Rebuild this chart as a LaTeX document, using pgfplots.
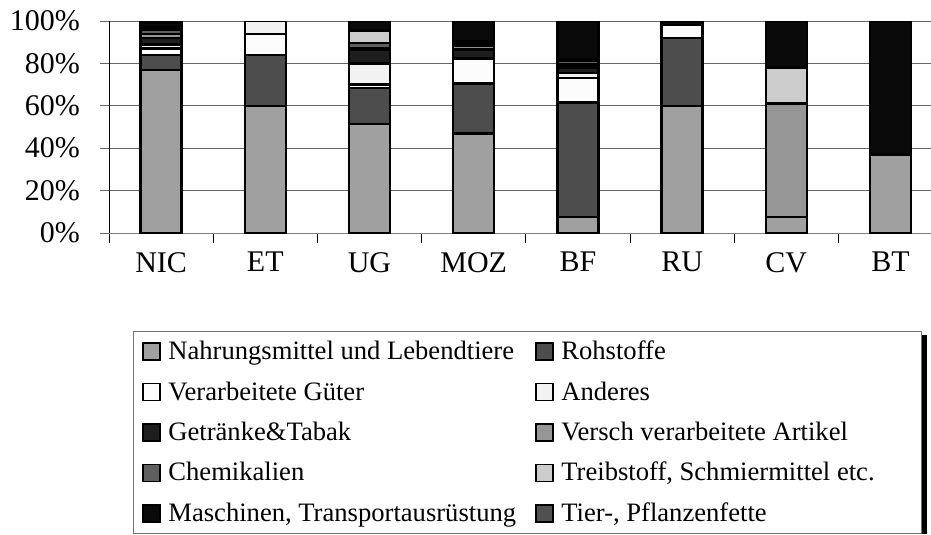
\documentclass[border=0pt]{standalone}
\usepackage{fontspec}
\setmainfont{Liberation Serif}
\usepackage{pgfplots}
\pgfplotsset{compat=1.18}
\usepackage{pgfplotstable}

\definecolor{cNahr}{HTML}{A0A0A0}
\definecolor{cRoh}{HTML}{4D4D4D}
\definecolor{cVerarb}{HTML}{FCFCFC}
\definecolor{cAnd}{HTML}{F2F2F2}
\definecolor{cGetr}{HTML}{1E1E1E}
\definecolor{cVersch}{HTML}{969696}
\definecolor{cChem}{HTML}{5F5F5F}
\definecolor{cTreib}{HTML}{CCCCCC}
\definecolor{cMasch}{HTML}{0A0A0A}
\definecolor{cTier}{HTML}{505050}

\pgfplotstableread{
x nahr roh verarb anderes getr versch chem treib masch tier
0 77   7    3    2   3   2   2   1   2   1
1 60   24   10   6   0   0   0   0   0   0
2 51.5 17   1.5  10  6.5 0.5 2.5 6   4.5 0
3 47   23.5 11.5 0.5 4   2   1   1   9.5 0
4 7.5  54   11.5 2.5 2.5 1.5 1.5 1   18  0
5 60   32   6    0   0   0   0   0   2   0
6 7.5  0    0    0   0   53.5 0  17  22  0
7 37   0    0    0   0   0   0   0   63  0
}\data

\pgfplotsset{
  leg/.style={legend image code/.code={\draw[##1, line width=1.6bp, draw=black] (0bp,-8.5bp) rectangle (17bp,8.5bp); \path (24bp,0bp);}}
}

\begin{document}
\begin{tikzpicture}
\begin{axis}[
  scale only axis, width=833.6bp, height=212bp,
  xmin=-0.5, xmax=7.5, ymin=0, ymax=100,
  ybar stacked, bar width=41bp,
  axis lines*=left,
  x axis line style={black!50, line width=0.9bp},
  y axis line style={black, line width=0.9bp},
  tick align=outside,
  major tick length=9bp, minor tick length=10bp,
  xtick={0,...,7},
  xticklabels={NIC,ET,UG,MOZ,BF,RU,CV,BT},
  minor xtick={-0.5,0.5,...,7.5},
  major x tick style={draw=none},
  minor x tick style={black, line width=0.9bp},
  ytick={0,20,...,100},
  yticklabels={0\%,20\%,40\%,60\%,80\%,100\%},
  y tick style={black!60, line width=0.9bp},
  ymajorgrids, major grid style={black!60, line width=0.9bp},
  tick label style={font=\fontsize{30bp}{36bp}\selectfont},
  yticklabel style={anchor=east, inner sep=0pt, xshift=-20bp},
  xticklabel style={anchor=north, inner sep=0pt, yshift=-10bp},
  every axis plot/.append style={draw=black, line width=2.4bp},
  legend columns=2, legend cell align=left,
  legend style={
    name=lgd,
    at={(rel axis cs:0.02879,-0.46226)}, anchor=north west,
    draw=black!55, line width=0.8bp, fill=white,
    inner xsep=9bp, inner ysep=0bp,
    font=\fontsize{26.6bp}{30bp}\selectfont,
    column sep=0bp, row sep=0bp,
    nodes={inner sep=0bp, text height=28.2bp, text depth=12.2bp},
  },
]
\addplot[fill=cNahr, leg] table[x=x, y=nahr] {\data};
\addlegendentry{\makebox[367bp][l]{Nahrungsmittel und Lebendtiere}}
\addplot[fill=cRoh, leg] table[x=x, y=roh] {\data};
\addlegendentry{\makebox[351bp][l]{Rohstoffe}}
\addplot[fill=cVerarb, leg] table[x=x, y=verarb] {\data};
\addlegendentry{Verarbeitete Güter}
\addplot[fill=cAnd, leg] table[x=x, y=anderes] {\data};
\addlegendentry{Anderes}
\addplot[fill=cGetr, leg] table[x=x, y=getr] {\data};
\addlegendentry{Getränke\&Tabak}
\addplot[fill=cVersch, leg] table[x=x, y=versch] {\data};
\addlegendentry{Versch verarbeitete Artikel}
\addplot[fill=cChem, leg] table[x=x, y=chem] {\data};
\addlegendentry{Chemikalien}
\addplot[fill=cTreib, leg] table[x=x, y=treib] {\data};
\addlegendentry{Treibstoff, Schmiermittel etc.}
\addplot[fill=cMasch, leg] table[x=x, y=masch] {\data};
\addlegendentry{Maschinen, Transportausrüstung}
\addplot[fill=cTier, leg] table[x=x, y=tier] {\data};
\addlegendentry{Tier-, Pflanzenfette}
\end{axis}
\fill[black] ([yshift=-4bp]lgd.north east) rectangle ([xshift=5bp]lgd.south east);
\pgfresetboundingbox
\useasboundingbox (-109bp,-302bp) rectangle (822bp,233bp);
\end{tikzpicture}
\end{document}
